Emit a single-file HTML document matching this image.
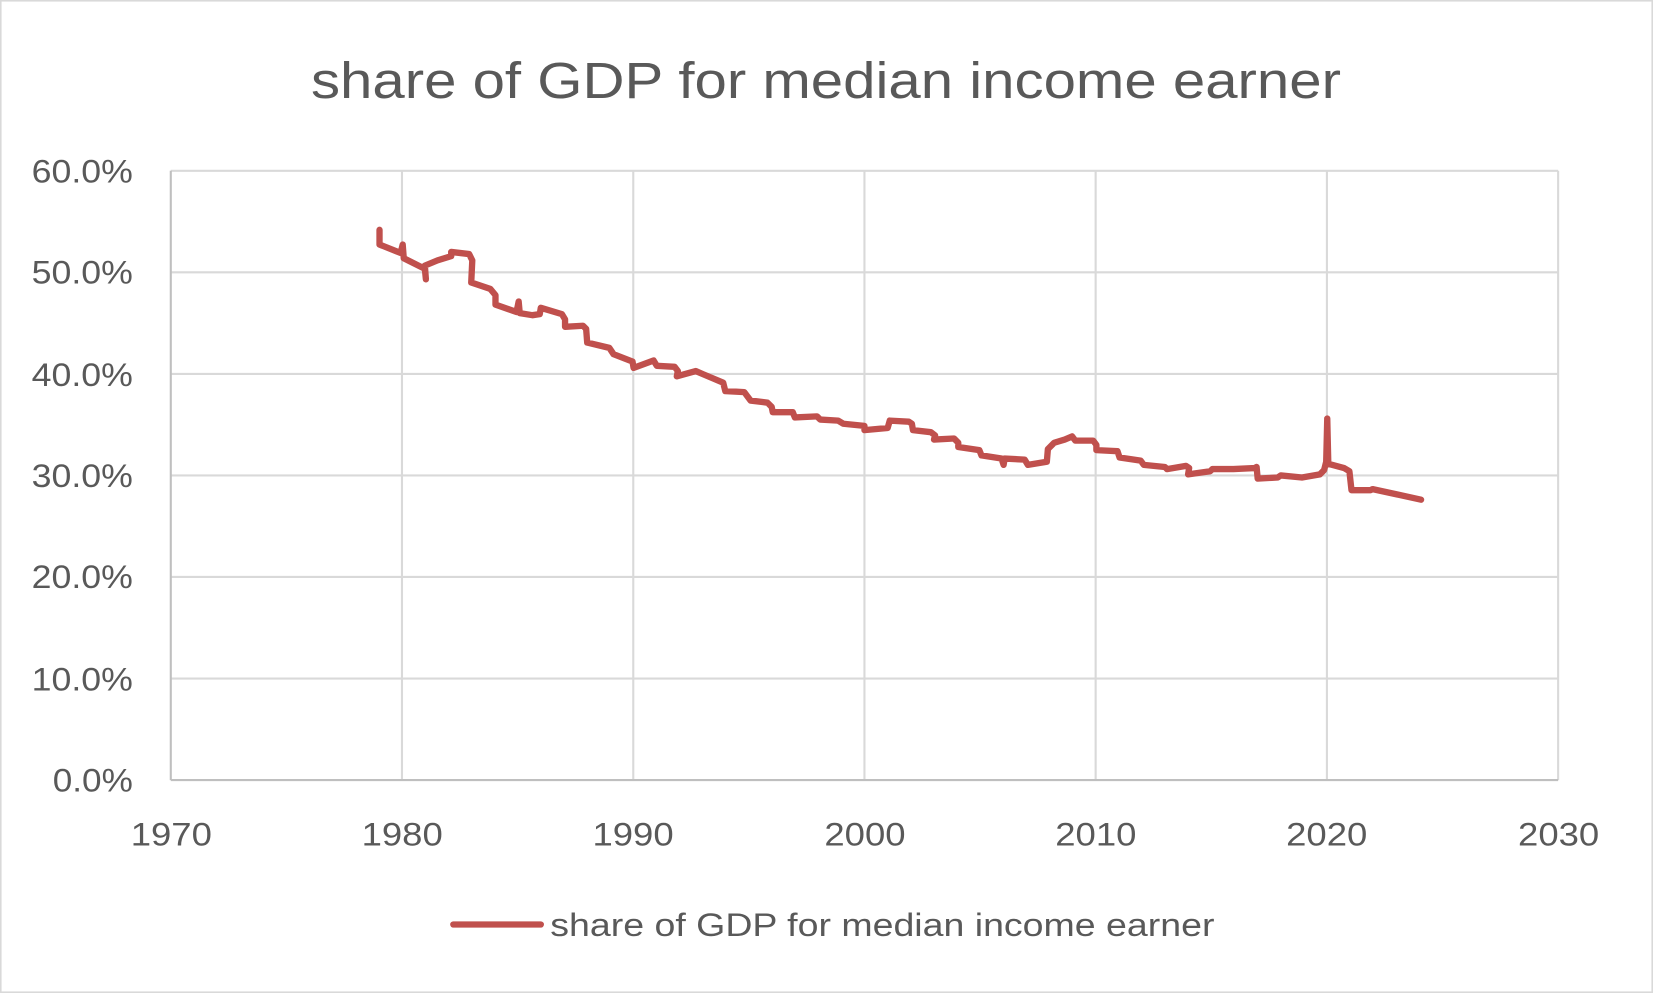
<!DOCTYPE html>
<html><head><meta charset="utf-8"><style>
html,body{margin:0;padding:0;background:#fff;}
svg{display:block;}
text{font-family:"Liberation Sans",sans-serif;fill:#595959;}
</style></head><body>
<svg width="1653" height="993" viewBox="0 0 1568 942" preserveAspectRatio="none">
<rect x="0.5" y="0.5" width="1567" height="941" fill="#fff" stroke="#d9d9d9" stroke-width="2"/>
<text x="295" y="93" font-size="48" textLength="977" lengthAdjust="spacingAndGlyphs">share of GDP for median income earner</text>
<g stroke="#d9d9d9" stroke-width="2">
<line x1="162" y1="162" x2="1478" y2="162"/>
<line x1="162" y1="258.3" x2="1478" y2="258.3"/>
<line x1="162" y1="354.7" x2="1478" y2="354.7"/>
<line x1="162" y1="451" x2="1478" y2="451"/>
<line x1="162" y1="547.3" x2="1478" y2="547.3"/>
<line x1="162" y1="643.7" x2="1478" y2="643.7"/>
<line x1="381.3" y1="162" x2="381.3" y2="740"/>
<line x1="600.7" y1="162" x2="600.7" y2="740"/>
<line x1="820" y1="162" x2="820" y2="740"/>
<line x1="1039.3" y1="162" x2="1039.3" y2="740"/>
<line x1="1258.7" y1="162" x2="1258.7" y2="740"/>
<line x1="1478" y1="162" x2="1478" y2="740"/>
<line x1="162" y1="162" x2="162" y2="740" stroke="#bfbfbf"/>
<line x1="162" y1="740" x2="1478" y2="740" stroke="#bfbfbf"/>
</g>
<g font-size="31" lengthAdjust="spacingAndGlyphs">
<text x="30" y="173" textLength="96" lengthAdjust="spacingAndGlyphs">60.0%</text>
<text x="30" y="269" textLength="96" lengthAdjust="spacingAndGlyphs">50.0%</text>
<text x="30" y="366" textLength="96" lengthAdjust="spacingAndGlyphs">40.0%</text>
<text x="30" y="462" textLength="96" lengthAdjust="spacingAndGlyphs">30.0%</text>
<text x="30" y="558" textLength="96" lengthAdjust="spacingAndGlyphs">20.0%</text>
<text x="30" y="655" textLength="96" lengthAdjust="spacingAndGlyphs">10.0%</text>
<text x="50" y="751" textLength="76" lengthAdjust="spacingAndGlyphs">0.0%</text>
</g>
<g font-size="31">
<text x="124" y="802" textLength="77" lengthAdjust="spacingAndGlyphs">1970</text>
<text x="343" y="802" textLength="77" lengthAdjust="spacingAndGlyphs">1980</text>
<text x="562" y="802" textLength="77" lengthAdjust="spacingAndGlyphs">1990</text>
<text x="782" y="802" textLength="77" lengthAdjust="spacingAndGlyphs">2000</text>
<text x="1001" y="802" textLength="77" lengthAdjust="spacingAndGlyphs">2010</text>
<text x="1220" y="802" textLength="77" lengthAdjust="spacingAndGlyphs">2020</text>
<text x="1440" y="802" textLength="77" lengthAdjust="spacingAndGlyphs">2030</text>
</g>
<polyline fill="none" stroke="#c0504d" stroke-width="6" stroke-linejoin="round" stroke-linecap="round" points="360,218 360,232 380,240 382,232 383,245 403,255 404,265 403,252 415,247 428,243 428,239 445,241 448,247 447,268 465,274 470,280 470,289 490,296 492,286 493,297 505,299 512,298 513,292 533,298 536,303 536,310 553,309 556,312 557,325 578,330 582,336 600,343 601,349 620,342 623,347 640,348 643,352 642,357 660,352 667,355 686,363 688,371 706,372 709,376 712,380 728,382 732,386 733,391 752,391 754,396 775,395 778,398 795,399 800,402 820,404 820,408 842,406 844,399 862,400 865,402 866,408 883,410 887,413 886,417 905,416 909,420 909,424 929,427 931,432 950,435 952,441 953,435 972,436 975,441 993,438 994,426 1000,420 1010,417 1017,414 1020,418 1037,418 1040,422 1040,427 1060,428 1062,434 1082,437 1085,441 1105,443 1107,445 1125,442 1128,444 1127,450 1148,447 1150,445 1170,445 1190,444 1192,443 1193,454 1212,453 1215,451 1235,453 1252,450 1256,446 1258,438 1259,397 1260,440 1275,444 1280,447 1282,465 1300,465 1302,464 1325,469 1348,474"/>
<line x1="430" y1="877" x2="513" y2="877" stroke="#c0504d" stroke-width="6" stroke-linecap="round"/>
<text x="522" y="888" font-size="31" textLength="630" lengthAdjust="spacingAndGlyphs">share of GDP for median income earner</text>
</svg>
</body></html>
